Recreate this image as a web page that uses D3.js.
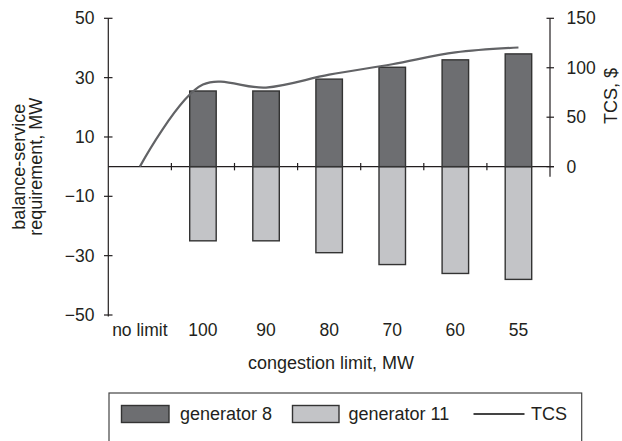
<!DOCTYPE html>
<html><head><meta charset="utf-8">
<script src="https://cdn.jsdelivr.net/npm/d3@7"></script>
<style>
html,body{margin:0;padding:0;background:#fff;}
text{font-family:"Liberation Sans",Arial,sans-serif;fill:#231f20;}
</style></head>
<body>
<svg id="c" width="622" height="441"></svg>
<script>
const categories = ["no limit","100","90","80","70","60","55"];
const generator8 = [null, 25.5, 25.5, 29.5, 33.5, 36, 38];
const generator11 = [null, -25, -25, -29, -33, -36, -38];
const tcs = [0, 83, 80, 93, 103.5, 115.5, 120.5];
const leftTicks = [-50, -30, -10, 10, 30, 50];
const rightTicks = [0, 50, 100, 150];

const svg = d3.select("#c");
const ink = "#231f20";
const x = d3.scaleBand().domain(categories).range([108.3, 550]).paddingInner(0).paddingOuter(0);
const yL = d3.scaleLinear().domain([-50, 50]).range([315, 18.3]);
const yR = d3.scaleLinear().domain([0, 150]).range([yL(0), yL(50)]);
const barW = 26.5;
const bx = i => x(categories[i]) + x.bandwidth()/2 - barW/2;

// x axis line
svg.append("line").attr("x1", 108.3).attr("x2", 554).attr("y1", yL(0)).attr("y2", yL(0))
  .attr("stroke", ink).attr("stroke-width", 1.2);

// bars
generator11.forEach((v,i)=>{
  if(v===null) return;
  svg.append("rect").attr("x", bx(i)).attr("width", barW)
    .attr("y", yL(0)).attr("height", yL(v)-yL(0))
    .attr("fill", "#c3c4c7").attr("stroke", "#333").attr("stroke-width", 1.4);
});
generator8.forEach((v,i)=>{
  if(v===null) return;
  svg.append("rect").attr("x", bx(i)).attr("width", barW)
    .attr("y", yL(v)).attr("height", yL(0)-yL(v))
    .attr("fill", "#6d6e71").attr("stroke", "#333").attr("stroke-width", 1.4);
});

// left axis
svg.append("line").attr("x1",108.3).attr("x2",108.3).attr("y1",yL(50)).attr("y2",yL(-50)+1.5)
  .attr("stroke",ink).attr("stroke-width",1.2);
leftTicks.forEach(t=>{
  svg.append("line").attr("x1",104).attr("x2",112.5).attr("y1",yL(t)).attr("y2",yL(t))
    .attr("stroke",ink).attr("stroke-width",1.2);
  svg.append("text").attr("x",94.5).attr("y",yL(t)).attr("dy","0.35em")
    .attr("text-anchor","end").attr("font-size","17.5px")
    .text(t<0 ? "\u2212" + Math.abs(t) : String(t));
});

// category ticks
categories.forEach((c,i)=>{
  if(i===0) return;
  svg.append("line").attr("x1",x(c)).attr("x2",x(c)).attr("y1",yL(0)-3.7).attr("y2",yL(0)+3.7)
    .attr("stroke",ink).attr("stroke-width",1.2);
});
categories.forEach(c=>{
  svg.append("text").attr("x",x(c)+x.bandwidth()/2).attr("y",336)
    .attr("text-anchor","middle").attr("font-size","17.5px").text(c);
});

// right axis
svg.append("line").attr("x1",550).attr("x2",550).attr("y1",yR(150)).attr("y2",yR(0)+10)
  .attr("stroke",ink).attr("stroke-width",1.2);
rightTicks.forEach(t=>{
  svg.append("line").attr("x1",546.5).attr("x2",554).attr("y1",yR(t)).attr("y2",yR(t))
    .attr("stroke",ink).attr("stroke-width",1.2);
  svg.append("text").attr("x",566.5).attr("y",yR(t)).attr("dy","0.35em")
    .attr("text-anchor","start").attr("font-size","17.5px").text(t);
});

// TCS line
const line = d3.line()
  .x((d,i)=>x(categories[i])+x.bandwidth()/2)
  .y(d=>yR(d))
  .curve(d3.curveCatmullRom.alpha(0.5));
svg.append("path").datum(tcs).attr("d", line).attr("fill","none")
  .attr("stroke","#626366").attr("stroke-width",2.2);

// axis titles
svg.append("text").attr("x",331).attr("y",368.5).attr("text-anchor","middle")
  .attr("font-size","18px").text("congestion limit, MW");
const lt = svg.append("text").attr("transform","translate(24.5,166.7) rotate(-90)")
  .attr("text-anchor","middle").attr("font-size","18px");
lt.append("tspan").attr("x",0).attr("y",0).text("balance-service");
lt.append("tspan").attr("x",0).attr("y",17).text("requirement, MW");
svg.append("text").attr("transform","translate(617,96) rotate(-90)")
  .attr("text-anchor","middle").attr("font-size","18px").text("TCS, $");

// legend
svg.append("rect").attr("x",109).attr("y",393).attr("width",472.7).attr("height",60)
  .attr("fill","none").attr("stroke","#444").attr("stroke-width",1.2);
svg.append("rect").attr("x",121.5).attr("y",405.5).attr("width",47.5).attr("height",17)
  .attr("fill","#6d6e71").attr("stroke","#333").attr("stroke-width",1.4);
svg.append("text").attr("x",180).attr("y",419.5).attr("font-size","18px").text("generator 8");
svg.append("rect").attr("x",292.5).attr("y",405.5).attr("width",46.5).attr("height",17)
  .attr("fill","#c3c4c7").attr("stroke","#333").attr("stroke-width",1.4);
svg.append("text").attr("x",348.5).attr("y",419.5).attr("font-size","18px").text("generator 11");
svg.append("line").attr("x1",473.5).attr("x2",524.5).attr("y1",414).attr("y2",414)
  .attr("stroke","#444").attr("stroke-width",2);
svg.append("text").attr("x",531).attr("y",419.5).attr("font-size","18px").text("TCS");
</script>
</body></html>
